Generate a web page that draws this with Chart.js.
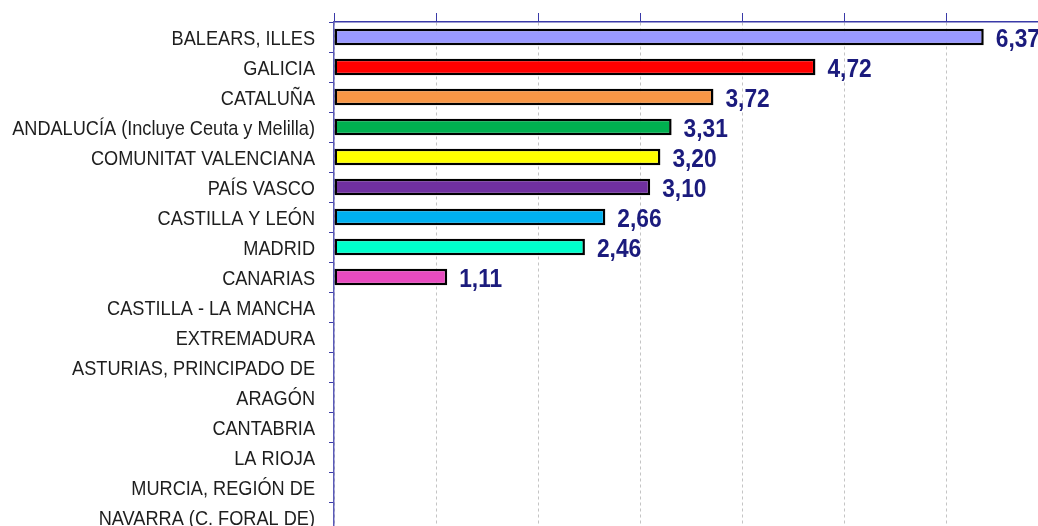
<!DOCTYPE html>
<html>
<head>
<meta charset="utf-8">
<script src="https://cdn.jsdelivr.net/npm/chart.js@4/dist/chart.umd.min.js"></script>
<style>
  html, body { margin: 0; padding: 0; background: #fff; overflow: hidden; }
  #wrap { width: 1038px; height: 526px; overflow: hidden; }
</style>
</head>
<body>
<div id="wrap"><canvas id="myChart" width="1050" height="534"></canvas></div>
<script>
const regions = [
  "BALEARS, ILLES", "GALICIA", "CATALUÑA", "ANDALUCÍA (Incluye Ceuta y Melilla)",
  "COMUNITAT VALENCIANA", "PAÍS VASCO", "CASTILLA Y LEÓN", "MADRID", "CANARIAS",
  "CASTILLA - LA MANCHA", "EXTREMADURA", "ASTURIAS, PRINCIPADO DE", "ARAGÓN",
  "CANTABRIA", "LA RIOJA", "MURCIA, REGIÓN DE", "NAVARRA (C. FORAL DE)"
]
const values = [6.37, 4.72, 3.72, 3.31, 3.20, 3.10, 2.66, 2.46, 1.11,
  null, null, null, null, null, null, null, null]
const barColors = ["#9999ff", "#ff0000", "#f79646", "#00b050", "#ffff00",
  "#7030a0", "#00b0f0", "#00ffcc", "#e84bbf",
  "#999999", "#999999", "#999999", "#999999", "#999999", "#999999", "#999999", "#999999"]

const font = "'Liberation Sans', Arial, sans-serif"
const axisBlue = "#3a3aa8"

// region names (narrowed like Arial Narrow) and value labels
const textLabels = {
  id: "textLabels",
  afterDraw(chart) {
    const ctx = chart.ctx
    const yScale = chart.scales.y
    ctx.save()
    ctx.font = "21px " + font
    ctx.fillStyle = "#1e1e1e"
    ctx.textAlign = "right"
    ctx.textBaseline = "alphabetic"
    regions.forEach((name, i) => {
      ctx.save()
      ctx.translate(yScale.right - 19, yScale.getPixelForTick(i) + 8)
      ctx.scale(0.865, 1)
      ctx.fillText(name, 0, 0)
      ctx.restore()
    })

    const meta = chart.getDatasetMeta(0)
    ctx.font = "bold 25px " + font
    ctx.fillStyle = "#1b1b7d"
    ctx.textAlign = "left"
    meta.data.forEach((bar, i) => {
      const v = values[i]
      if (v === null) return
      ctx.save()
      ctx.translate(bar.x + 12, bar.y + 10)
      ctx.scale(0.91, 1)
      ctx.fillText(v.toFixed(2).replace(".", ","), 0, 0)
      ctx.restore()
    })
    ctx.restore()
  }
}

new Chart("myChart", {
  type: "bar",
  data: {
    labels: regions,
    datasets: [{
      data: values,
      backgroundColor: barColors,
      borderColor: "#000",
      borderWidth: 2.5,
      borderSkipped: false,
      categoryPercentage: 1,
      barPercentage: 0.55
    }]
  },
  options: {
    indexAxis: "y",
    responsive: false,
    animation: false,
    layout: { padding: { top: 13, right: 2, bottom: 2, left: 0 } },
    plugins: { legend: { display: false }, tooltip: { enabled: false } },
    scales: {
      x: {
        position: "top",
        min: 0,
        max: 7,
        ticks: { display: false, stepSize: 1 },
        grid: {
          color: "#c4c4c4",
          tickLength: 9,
          tickColor: axisBlue,
          tickBorderDash: [],
          lineWidth: 1
        },
        border: { color: axisBlue, width: 1.5, dash: [3, 3] }
      },
      y: {
        afterFit: s => { s.width = 334 },
        ticks: { display: false },
        grid: {
          drawOnChartArea: false,
          tickLength: 5,
          tickColor: axisBlue,
          offset: true
        },
        border: { color: "#5a5ab8", width: 1.5 }
      }
    }
  },
  plugins: [textLabels]
})
</script>
</body>
</html>
